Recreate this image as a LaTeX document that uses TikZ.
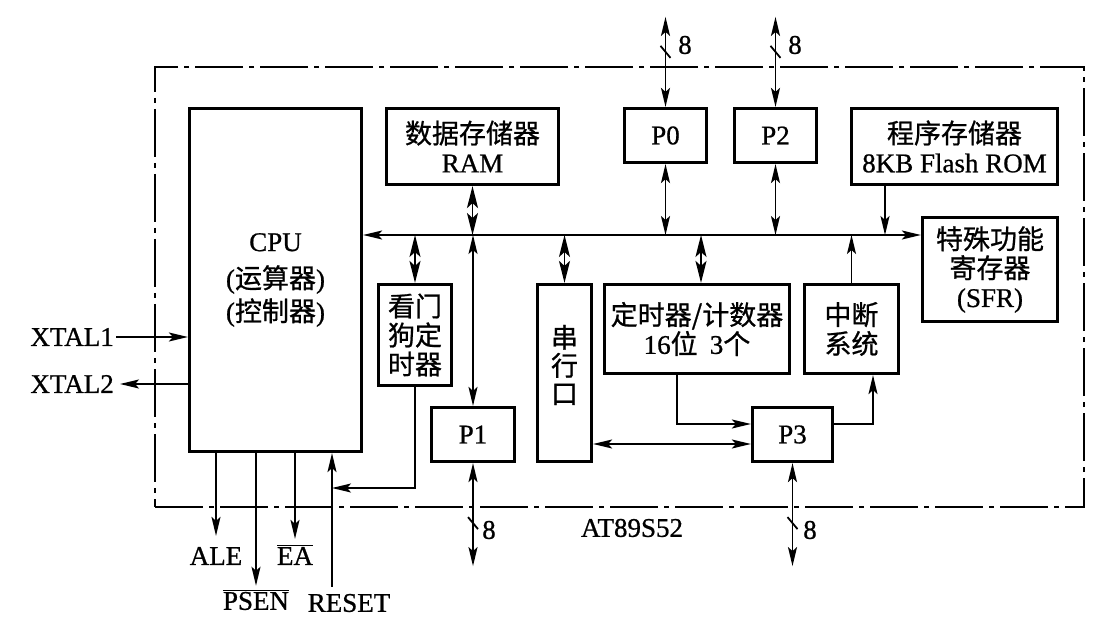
\documentclass[tikz,border=0pt]{standalone}
\usepackage{fontspec}
\setmainfont[FakeBold=0.8]{Liberation Serif}
\newfontfamily\cjk[FakeBold=0.8]{Noto Sans CJK SC}
\usetikzlibrary{arrows.meta}
\newcommand{\cn}[1]{{\cjk #1}}
\newcommand{\ovl}[1]{\(\overline{\hbox{#1}}\)}
\begin{document}
\begin{tikzpicture}[x=1pt,y=-1pt,
  sm/.tip={Stealth[length=19pt,width=9pt,inset=4pt]},
  big/.tip={Stealth[length=22pt,width=11pt,inset=5pt]},
  >=sm,
  box/.style={draw, line width=3.2pt, inner sep=0pt, align=center,
    font=\fontsize{27}{29}\selectfont},
  lbl/.style={inner sep=2pt, font=\fontsize{27}{29}\selectfont},
  conn/.style={line width=1.8pt},
  chipline/.style={draw, line width=2.6pt, dash pattern=on 48pt off 6pt on 5pt off 6pt},
]
\useasboundingbox (0,0) rectangle (1100,636);
\fill[white] (0,0) rectangle (1100,636);

% chip outline
\node[chipline, inner sep=0pt, minimum width=929pt, minimum height=440pt] (chip) at (619.5,287) {};

% blocks
\node[box, minimum width=172pt, minimum height=343pt] (cpu) at (275.5,280)
  {CPU\\[8pt](\cn{运算器})\\[4pt](\cn{控制器})};
\node[box, minimum width=172pt, minimum height=76pt] (ram) at (472.5,146.5) {\cn{数据存储器}\\RAM};
\node[box, minimum width=82pt, minimum height=54pt] (p0) at (665.5,135.5) {P0};
\node[box, minimum width=82pt, minimum height=54pt] (p2) at (775.5,135.5) {P2};
\node[box, minimum width=206pt, minimum height=76pt] (rom) at (954.5,146.5) {\cn{程序存储器}\\8KB Flash ROM};
\node[box, minimum width=135pt, minimum height=104pt] (sfr) at (990,269.5) {\cn{特殊功能}\\\cn{寄存器}\\(SFR)};
\node[box, minimum width=73pt, minimum height=101pt] (wd) at (415,335) {\cn{看门}\\\cn{狗定}\\\cn{时器}};
\node[box, minimum width=83pt, minimum height=54pt] (p1) at (473,434.5) {P1};
\node[box, minimum width=54pt, minimum height=177pt] (ser) at (564.5,373) {};
\node[lbl, align=center, inner sep=0pt, font=\fontsize{27}{28}\selectfont] (sertxt) at (564.5,365) {\cn{串}\\\cn{行}\\\cn{口}};
\node[box, minimum width=185pt, minimum height=89pt] (tm) at (697,329) {\cn{定时器/计数器}\\16\cn{位}\hspace{0.45em}3\cn{个}};
\node[box, minimum width=94pt, minimum height=89pt] (int) at (851.5,329) {\cn{中断}\\\cn{系统}};
\node[box, minimum width=80pt, minimum height=54pt] (p3) at (792.5,434.5) {P3};

% internal bus
\coordinate (bus) at (0,235);
\draw[conn,<->] (cpu.east |- bus) -- (sfr.west |- bus);
\draw[conn,big-big] (ram.south) -- (ram.south |- bus);
\draw[conn,<->] (p1.north |- bus) -- (p1.north);
\draw[conn,big-big] (wd.north) -- (wd.north |- bus);
\draw[conn,big-big] (ser.north) -- (ser.north |- bus);
\coordinate (tmt) at ([xshift=4pt]tm.north);
\draw[conn,big-big] (tmt) -- (tmt |- bus);
\draw[conn,<->] (p0.south) -- (p0.south |- bus);
\draw[conn,<->] (p2.south) -- (p2.south |- bus);
\draw[conn,->] (int.north) -- (int.north |- bus);
\coordinate (romb) at ([xshift=-69.5pt]rom.south);
\draw[conn,->] (romb) -- (romb |- bus);

% external ports P0 / P2
\coordinate (p0t) at ([yshift=90pt]p0.north);
\coordinate (p2t) at ([yshift=90pt]p2.north);
\draw[conn,<->] (p0t) -- (p0.north);
\draw[conn,<->] (p2t) -- (p2.north);
\draw[conn] (p0t) ++(-5,29) -- ++(10,12);
\draw[conn] (p2t) ++(-5,29) -- ++(10,12);
\node[lbl] (n8a) at (685,45) {8};
\node[lbl] (n8b) at (795,45) {8};

% external ports P1 / P3
\coordinate (p1b) at ([yshift=-103pt]p1.south);
\coordinate (p3b) at ([yshift=-103pt]p3.south);
\draw[conn,<->] (p1.south) -- (p1b);
\draw[conn,<->] (p3.south) -- (p3b);
\draw[conn] (p1b) ++(-5,-49) -- ++(10,12);
\draw[conn] (p3b) ++(-5,-49) -- ++(10,12);
\node[lbl] (n8c) at (489,530) {8};
\node[lbl] (n8d) at (810,530) {8};

% P3 connections
\coordinate (sp) at (0,444);
\coordinate (l424) at (0,424);
\draw[conn,<->] (ser.east |- sp) -- (p3.west |- sp);
\coordinate (tmb) at ([xshift=-20pt]tm.south);
\draw[conn,->] (tmb) |- (p3.west |- l424);
\coordinate (inb) at ([xshift=21.5pt]int.south);
\draw[conn,->] (p3.east |- l424) -| (inb);

% XTAL
\node[lbl, anchor=east] (x1) at (116,337) {XTAL1};
\node[lbl, anchor=east] (x2) at (116,384) {XTAL2};
\draw[conn,->] (x1.east) -- (cpu.west |- x1.east);
\draw[conn,->] (cpu.west |- x2.east) -- ([xshift=4pt]x2.east);

% CPU bottom signals
\node[lbl] (ale) at (216,556) {ALE};
\node[lbl] (psen) at (256,600) {\ovl{PSEN}};
\node[lbl] (ea) at (295,555) {\ovl{EA}};
\node[lbl] (reset) at (349,603) {RESET};
\draw[conn,->] (ale.north |- cpu.south) -- ([yshift=9pt]ale.north);
\draw[conn,->] (psen.north |- cpu.south) -- ([yshift=2pt]psen.north);
\draw[conn,->] (ea.north |- cpu.south) -- ([yshift=4pt]ea.north);
\coordinate (rst) at ([xshift=-17pt,yshift=5pt]reset.north);
\draw[conn,->] (rst) -- (rst |- cpu.south);
\coordinate (l488) at (0,488);
\draw[conn,->] (wd.south) |- (rst |- l488);

% chip name
\node[lbl] (name) at (632,528) {AT89S52};
\end{tikzpicture}
\end{document}
